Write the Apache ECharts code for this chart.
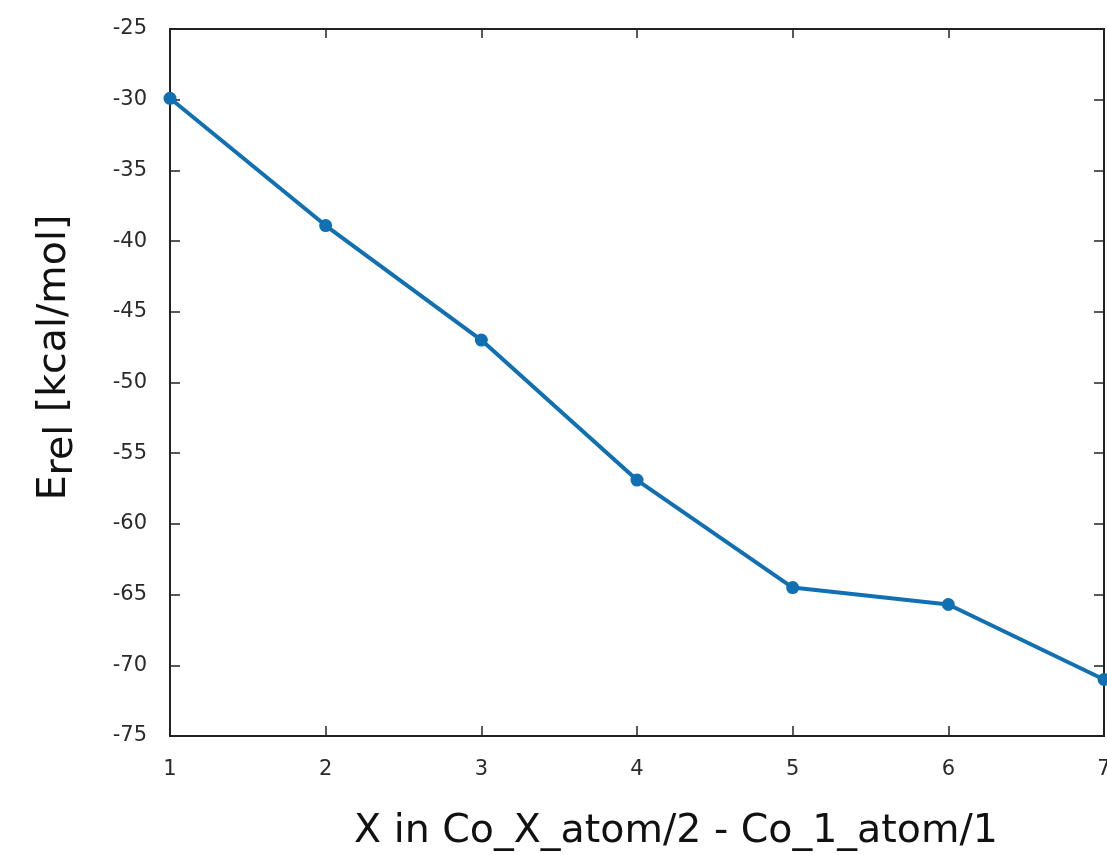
<!DOCTYPE html>
<html>
<head>
<meta charset="utf-8">
<script src="https://cdn.jsdelivr.net/npm/echarts@6/dist/echarts.min.js"></script>
<style>
  html, body { margin: 0; padding: 0; background: #fff; }
  #main { width: 1107px; height: 855px; }
</style>
</head>
<body>
<div id="main"></div>
<script>
// X in Co_X_atom/2 - Co_1_atom/1
const xValues = [1, 2, 3, 4, 5, 6, 7]
// Erel [kcal/mol]
const erel = [-29.9, -38.9, -47.0, -56.9, -64.5, -65.7, -71.0]
const yTicks = { min: -75, max: -25, interval: 5 }
const xTicks = { min: 1, max: 7, interval: 1 }

const chart = echarts.init(document.getElementById('main'))

const lineColor = '#1170b2'
const labelFont = 'DejaVu Sans'
const titleSize = 39.5

chart.setOption({
  backgroundColor: '#fff',
  animation: false,
  grid: {
    left: 170,
    right: 3,
    top: 29,
    bottom: 119,
    outerBoundsMode: 'none',
    containLabel: false,
    show: true,
    borderColor: '#222',
    borderWidth: 2,
    backgroundColor: 'transparent'
  },
  xAxis: [{
    type: 'value',
    min: xTicks.min,
    max: xTicks.max,
    interval: xTicks.interval,
    position: 'bottom',
    name: 'X in Co_X_atom/2 - Co_1_atom/1',
    nameLocation: 'middle',
    nameMoveOverlap: false,
    nameGap: 76,
    nameTextStyle: { fontFamily: labelFont, fontSize: titleSize, color: '#111', padding: [0, 0, 0, 78] },
    axisLine: { show: true, lineStyle: { color: '#222', width: 2 } },
    axisTick: { show: true, inside: true, length: 10, lineStyle: { color: '#222', width: 1.5 } },
    axisLabel: { fontFamily: labelFont, fontSize: 21, color: '#2a2a2a', margin: 23 },
    splitLine: { show: false }
  }, {
    type: 'value',
    min: xTicks.min,
    max: xTicks.max,
    interval: xTicks.interval,
    position: 'top',
    axisLine: { show: false },
    axisTick: { show: true, inside: true, length: 9, lineStyle: { color: '#222', width: 1.5 } },
    axisLabel: { show: false },
    splitLine: { show: false }
  }],
  yAxis: [{
    type: 'value',
    min: yTicks.min,
    max: yTicks.max,
    interval: yTicks.interval,
    position: 'left',
    name: '{e|E}{s|rel}{e| [kcal/mol]}',
    nameLocation: 'middle',
    nameMoveOverlap: false,
    nameGap: 88,
    nameTextStyle: {
      fontFamily: labelFont,
      fontSize: titleSize,
      color: '#111',
      padding: [0, 0, 0, 50],
      rich: {
        e: { fontFamily: labelFont, fontSize: titleSize, color: '#111' },
        s: { fontFamily: labelFont, fontSize: titleSize, color: '#111', padding: [14, 0, 0, 0] }
      }
    },
    axisLine: { show: true, lineStyle: { color: '#222', width: 2 } },
    axisTick: { show: true, inside: true, length: 10, lineStyle: { color: '#222', width: 1.5 } },
    axisLabel: { fontFamily: labelFont, fontSize: 21, color: '#2a2a2a', margin: 23 },
    splitLine: { show: false }
  }, {
    type: 'value',
    min: yTicks.min,
    max: yTicks.max,
    interval: yTicks.interval,
    position: 'right',
    axisLine: { show: false },
    axisTick: { show: true, inside: true, length: 10, lineStyle: { color: '#222', width: 1.5 } },
    axisLabel: { show: false },
    splitLine: { show: false }
  }],
  series: [{
    type: 'line',
    data: xValues.map((x, i) => [x, erel[i]]),
    symbol: 'circle',
    symbolSize: 13,
    showSymbol: true,
    clip: false,
    lineStyle: { color: lineColor, width: 4 },
    itemStyle: { color: lineColor }
  }]
})
</script>
</body>
</html>
